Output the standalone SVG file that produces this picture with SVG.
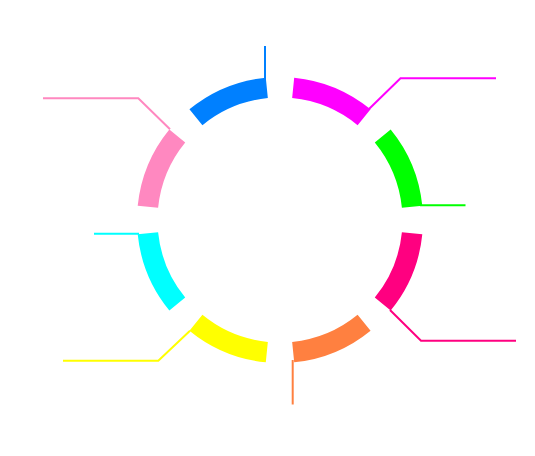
<svg xmlns="http://www.w3.org/2000/svg" width="535" height="456" viewBox="0 0 535 456">
<style>
.seg{fill:none;stroke-width:20.5;stroke-linecap:butt}
.lead{fill:none;stroke-width:2}
</style>
<rect width="535" height="456" fill="#ffffff"/>
<g id="connectors">
<polyline class="lead" stroke="#0080FF" points="265,46 265,80"/>
<polyline class="lead" stroke="#FF00FF" points="369,109 400.5,78.3 496,78.3"/>
<polyline class="lead" stroke="#00FF00" points="420,205.3 465.5,205.3"/>
<polyline class="lead" stroke="#FF0080" points="390,310 421,340.7 516,340.7"/>
<polyline class="lead" stroke="#FF8040" points="292.7,360 292.7,404.5"/>
<polyline class="lead" stroke="#FFFF00" points="190,330.7 158.3,360.7 63,360.7"/>
<polyline class="lead" stroke="#00FFFF" points="94,233.7 139,233.7"/>
<polyline class="lead" stroke="#FF88C0" points="170,129.3 138.3,98.3 43,98.3"/>
</g>
<g id="seg-magenta"><path class="seg" stroke="#FF00FF" d="M293.18,87.90 A132.75,132.75 0 0 1 364.08,117.28"/></g>
<g id="seg-green"><path class="seg" stroke="#00FF00" d="M382.72,135.92 A132.75,132.75 0 0 1 412.10,206.82"/></g>
<g id="seg-deeppink"><path class="seg" stroke="#FF0080" d="M412.10,233.18 A132.75,132.75 0 0 1 382.72,304.08"/></g>
<g id="seg-orange"><path class="seg" stroke="#FF8040" d="M364.08,322.72 A132.75,132.75 0 0 1 293.18,352.10"/></g>
<g id="seg-yellow"><path class="seg" stroke="#FFFF00" d="M266.82,352.10 A132.75,132.75 0 0 1 195.92,322.72"/></g>
<g id="seg-cyan"><path class="seg" stroke="#00FFFF" d="M177.28,304.08 A132.75,132.75 0 0 1 147.90,233.18"/></g>
<g id="seg-pink"><path class="seg" stroke="#FF88C0" d="M147.90,206.82 A132.75,132.75 0 0 1 177.28,135.92"/></g>
<g id="seg-blue"><path class="seg" stroke="#0080FF" d="M195.92,117.28 A132.75,132.75 0 0 1 266.82,87.90"/></g>
</svg>
